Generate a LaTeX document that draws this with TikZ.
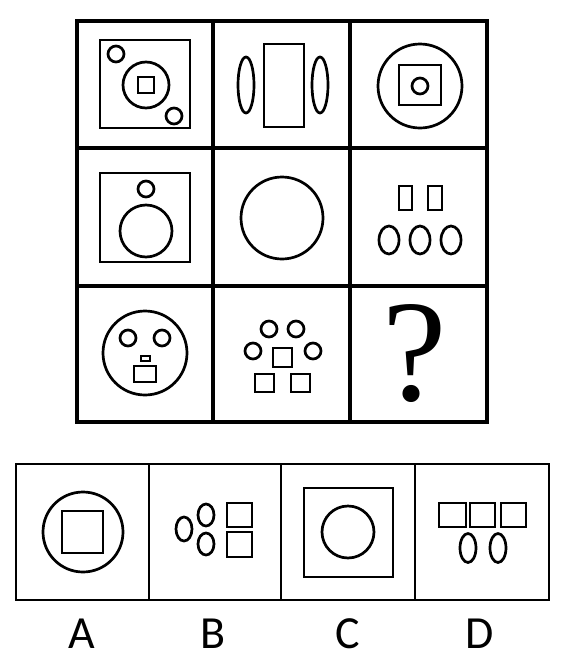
\documentclass[tikz,border=0pt]{standalone}
\usepackage{fontspec}
\setmainfont{Carlito}
\newfontfamily\qfont{Liberation Serif}
\usetikzlibrary{positioning}
\tikzstyle{gridline} = [line width=3.2pt]
\tikzstyle{fig} = [line width=2.7pt]
\tikzstyle{answer} = [inner sep=0pt, anchor=base, font=\fontsize{46}{46}\selectfont]

\begin{document}
\begin{tikzpicture}[x=1pt,y=-1pt]
    \useasboundingbox (0,0) rectangle (564,662);
    % puzzle grid
    \draw [gridline] (77,21) rectangle (487,422);
    \foreach \x in {213,350} \draw [gridline] (\x,21) -- (\x,422);
    \foreach \y in {148,286} \draw [gridline] (77,\y) -- (487,\y);

    % row 1
    \draw [fig] (100,40) rectangle (190,128);
    \draw [fig] (116,54) circle (8) (174,116) circle (8) (146,85) circle (23);
    \draw [fig] (138,77) rectangle (154,93);
    \draw [fig] (264,44) rectangle (304,127);
    \draw [fig] (246,85) ellipse (8 and 28) (320,85) ellipse (8 and 28);
    \draw [fig] (420,86) circle (42) (420,86) circle (8);
    \draw [fig] (399,65) rectangle (441,105);

    % row 2
    \draw [fig] (100,173) rectangle (190,262);
    \draw [fig] (146,189) circle (8) (146,231) circle (26);
    \draw [fig] (282,218) circle (41);
    \draw [fig] (399,186) rectangle (412,210);
    \draw [fig] (428,186) rectangle (442,210);
    \foreach \x in {389,420,451} \draw [fig] (\x,240) ellipse (10 and 14);

    % row 3
    \draw [fig] (145,353) circle (42) (128,338) circle (8) (162,338) circle (8);
    \draw [fig] (141,356) rectangle (150,361);
    \draw [fig] (134,366) rectangle (156,382);
    \draw [fig] (269,329) circle (8) (296,329) circle (8) (253,351) circle (8) (313,351) circle (8);
    \draw [fig] (273,348) rectangle (292,367);
    \draw [fig] (255,374) rectangle (274,392);
    \draw [fig] (291,374) rectangle (310,392);
    \node (qmark) [inner sep=0pt, anchor=base, font=\qfont\fontsize{145}{145}\selectfont] at (415,400) {?};

    % answer options
    \draw [fig] (16,464) rectangle (549,600);
    \foreach \x in {149,281,415} \draw [fig] (\x,464) -- (\x,600);
    \draw [fig] (83,532) circle (40);
    \draw [fig] (62,511) rectangle (103,553);
    \draw [fig] (184,529) ellipse (8 and 12) (206,515) ellipse (8 and 11) (206,544) ellipse (8 and 11);
    \draw [fig] (227,503) rectangle (252,527);
    \draw [fig] (227,532) rectangle (252,557);
    \draw [fig] (304,488) rectangle (393,577);
    \draw [fig] (348,532) circle (26);
    \draw [fig] (439,503) rectangle (466,527);
    \draw [fig] (470,503) rectangle (495,527);
    \draw [fig] (501,503) rectangle (526,527);
    \draw [fig] (468,548) ellipse (8 and 14.5) (498,548) ellipse (8 and 14.5);
    \foreach \name/\x in {A/82,B/213,C/348,D/480}
        \node (opt\name) [answer] at (\x,648) {\name};
\end{tikzpicture}
\end{document}
